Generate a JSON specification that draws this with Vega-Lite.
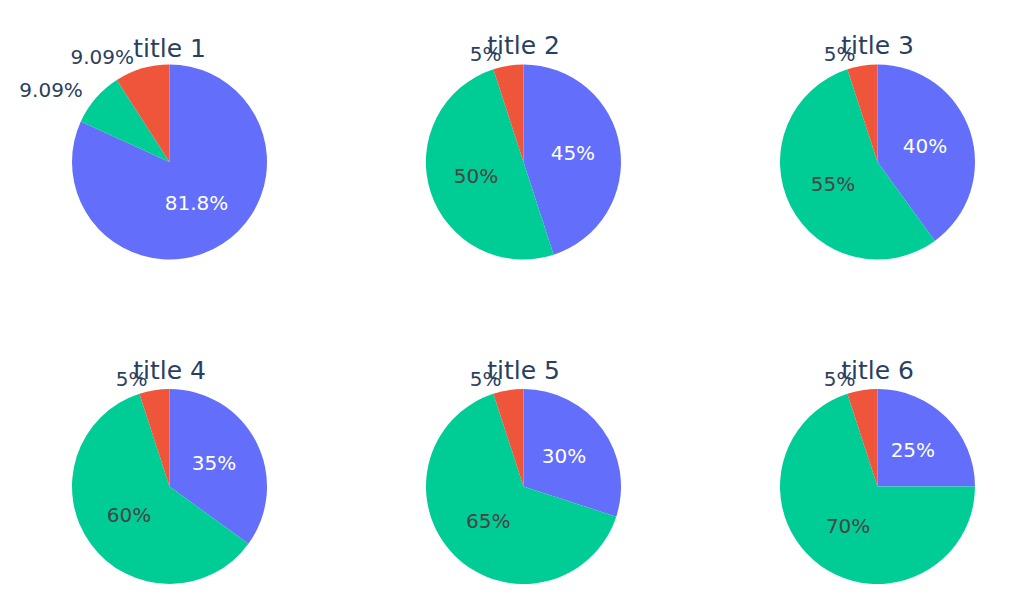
{
  "$schema": "https://vega.github.io/schema/vega-lite/v6.json",
  "background": "white",
  "bounds": "flush",
  "padding": {"left": 18.5, "top": 34, "right": 5, "bottom": 5},
  "data": {"values": [
    {"title": "title 1", "cat": "A", "k": 1, "value": 9},
    {"title": "title 1", "cat": "B", "k": 2, "value": 1},
    {"title": "title 1", "cat": "C", "k": 3, "value": 1},
    {"title": "title 2", "cat": "A", "k": 1, "value": 45},
    {"title": "title 2", "cat": "B", "k": 2, "value": 50},
    {"title": "title 2", "cat": "C", "k": 3, "value": 5},
    {"title": "title 3", "cat": "A", "k": 1, "value": 40},
    {"title": "title 3", "cat": "B", "k": 2, "value": 55},
    {"title": "title 3", "cat": "C", "k": 3, "value": 5},
    {"title": "title 4", "cat": "A", "k": 1, "value": 35},
    {"title": "title 4", "cat": "B", "k": 2, "value": 60},
    {"title": "title 4", "cat": "C", "k": 3, "value": 5},
    {"title": "title 5", "cat": "A", "k": 1, "value": 30},
    {"title": "title 5", "cat": "B", "k": 2, "value": 65},
    {"title": "title 5", "cat": "C", "k": 3, "value": 5},
    {"title": "title 6", "cat": "A", "k": 1, "value": 25},
    {"title": "title 6", "cat": "B", "k": 2, "value": 70},
    {"title": "title 6", "cat": "C", "k": 3, "value": 5}
  ]},
  "transform": [
    {"joinaggregate": [{"op": "sum", "field": "value", "as": "total"}], "groupby": ["title"]},
    {"calculate": "datum.value / datum.total", "as": "frac"},
    {"calculate": "format(datum.frac, '.3~p')", "as": "label"},
    {"calculate": "datum.frac < 0.1 ? '' : datum.label", "as": "inlabel"},
    {"calculate": "datum.frac < 0.1 ? datum.label : ''", "as": "outlabel"}
  ],
  "facet": {"field": "title", "type": "nominal", "header": {"title": null, "labelFontSize": 25, "labelColor": "#2a3f5f", "labelFont": "DejaVu Sans", "labelPadding": -14}},
  "columns": 3,
  "spacing": {"column": 158, "row": 128.5},
  "spec": {
    "width": 196,
    "height": 196,
    "encoding": {
      "theta": {"field": "value", "type": "quantitative", "stack": true},
      "order": {"field": "k", "type": "quantitative", "sort": "ascending"}
    },
    "layer": [
      {
        "mark": {"type": "arc", "outerRadius": 97.5},
        "encoding": {
          "color": {"field": "cat", "type": "nominal", "scale": {"domain": ["A", "B", "C"], "range": ["#636efa", "#00cc96", "#EF553B"]}, "legend": null}
        }
      },
      {
        "mark": {"type": "text", "radius": 50, "font": "DejaVu Sans", "fontSize": 20, "align": "center", "baseline": "middle"},
        "encoding": {
          "text": {"field": "inlabel", "type": "nominal"},
          "color": {"condition": {"test": "datum.cat === 'B'", "value": "#444444"}, "value": "#ffffff"}
        }
      },
      {
        "mark": {"type": "text", "radius": 108, "dx": -5, "font": "DejaVu Sans", "fontSize": 20, "align": "right", "baseline": "middle", "color": "#2a3f5f"},
        "encoding": {
          "text": {"field": "outlabel", "type": "nominal"}
        }
      }
    ]
  },
  "config": {"view": {"stroke": null}}
}
